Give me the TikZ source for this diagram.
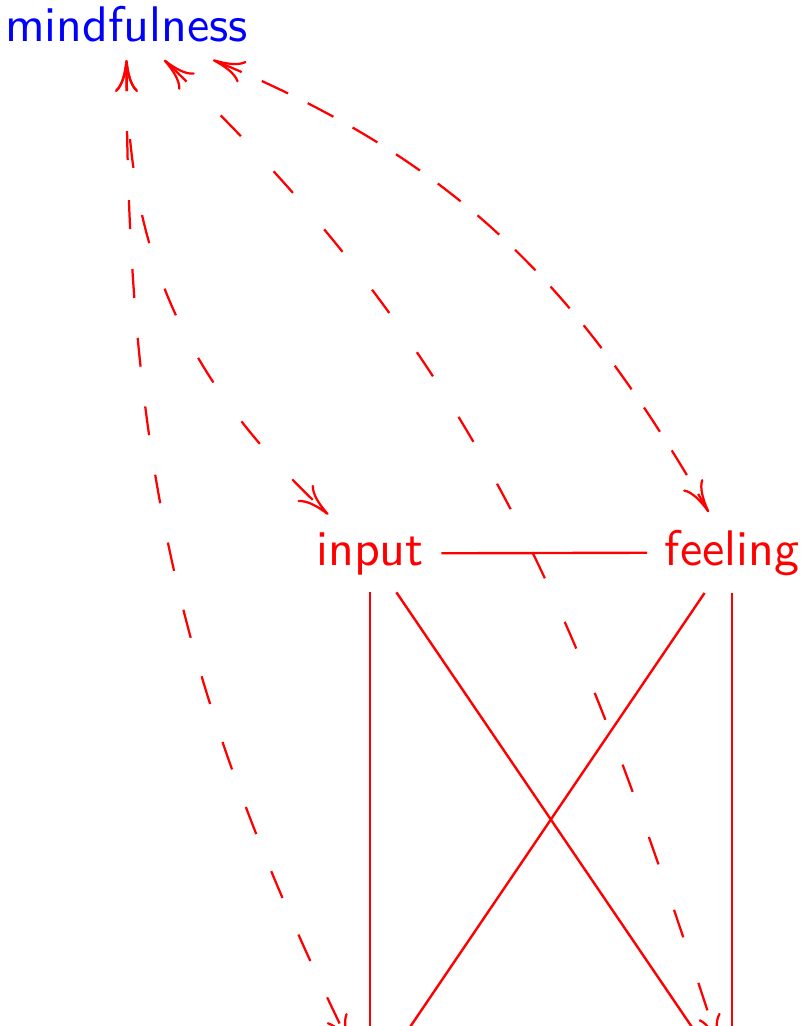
\documentclass[tikz,border=0pt]{standalone}
\usetikzlibrary{arrows.meta}
\begin{document}
\begin{tikzpicture}[x=0.2pt,y=-0.2pt,
  lbl/.style={font=\sffamily\fontsize{10}{12}\selectfont, anchor=base, inner sep=3.333pt},
  ghost/.style={minimum width=30pt, minimum height=15.4pt, inner sep=0pt},
  link/.style={red, line width=0.48pt},
  dbl/.style={red, line width=0.45pt, >={To[length=6.4pt,width=4.6pt]}, <->}]
\useasboundingbox (0,0) rectangle (803,1026);
\clip (0,0) rectangle (803,1026);
\node[lbl, blue] (mf) at (126.5,41.7) {mindfulness};
\node[lbl, red] (ip) at (370,565) {input};
\node[lbl, red] (fe) at (732,565) {feeling};
\node[ghost] (bl) at (370,1086) {};
\node[ghost] (br) at (732,1086) {};
\draw[link] (ip) -- (fe);
\draw[link] (ip) -- (bl);
\draw[link] (ip) -- (br);
\draw[link] (fe) -- (bl);
\draw[link] (fe) -- (br);
\draw[dbl, dash pattern=on 5.8pt off 9.6pt] (mf) to[out=-90,in=137] (ip);
\draw[dbl, dash pattern=on 5.8pt off 8pt] (mf) to[out=-90,in=116] (bl);
\draw[dbl, dash pattern=on 5.8pt off 4.4pt] (mf) to[out=-22.5,in=120] (fe);
\draw[dbl, dash pattern=on 5.8pt off 9.6pt] (mf) to[out=-43.5,in=108] (br);
\end{tikzpicture}
\end{document}
